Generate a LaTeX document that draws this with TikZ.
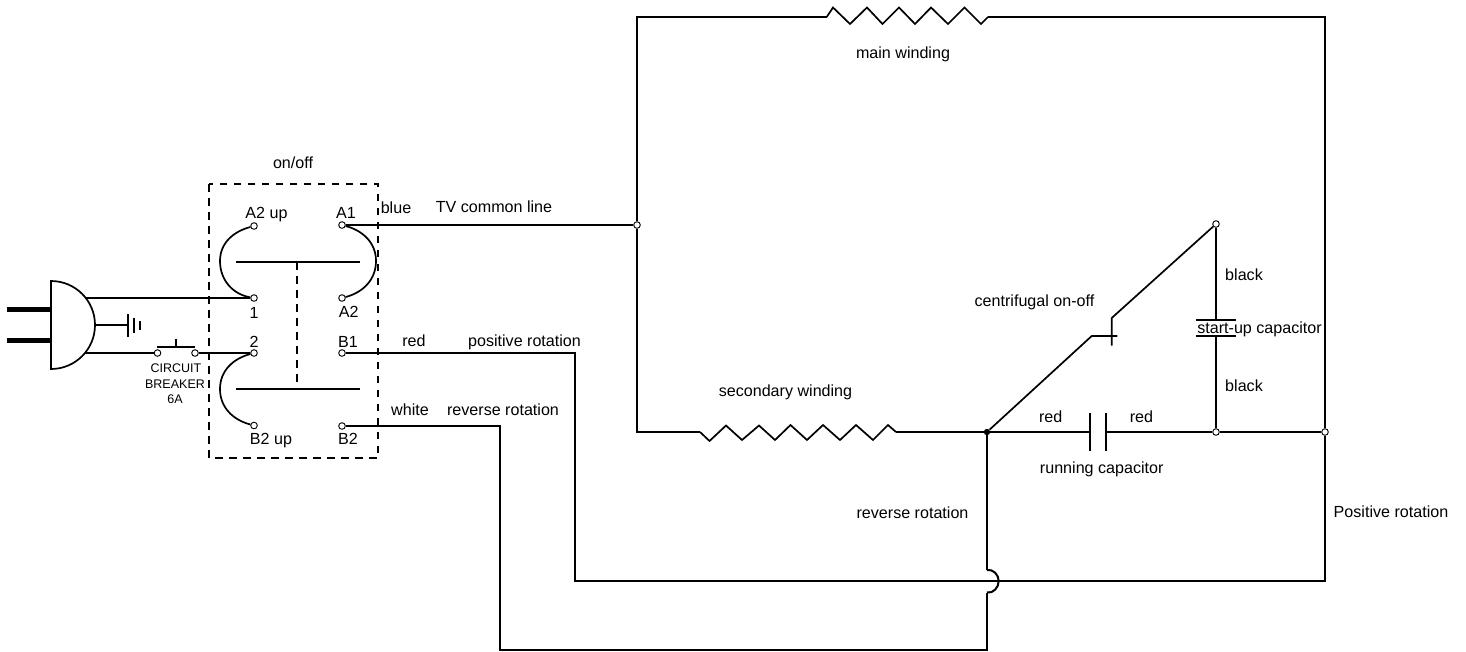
\documentclass[tikz,border=0pt]{standalone}
\usepackage{fontspec}
\setmainfont{Liberation Sans}
\begin{document}
\begin{tikzpicture}[x=1pt,y=-1pt,
  wire/.style={draw=black,line width=2pt,line join=miter},
  thin wire/.style={draw=black,line width=1.7pt,line join=miter},
  dash box/.style={draw=black,line width=1.6pt,dash pattern=on 7.5pt off 6.5pt},
  plate/.style={draw=black,line width=2pt},
  pin/.style={draw=black,line width=5pt},
  term/.style={circle,draw=black,line width=0.9pt,fill=white,inner sep=0pt,minimum size=6.6pt},
  dot/.style={circle,fill=black,inner sep=0pt,minimum size=6.4pt},
  lbl/.style={anchor=base,inner sep=0pt,yshift=-0.6pt,font=\fontsize{16.1}{18}\selectfont,text=black},
  small lbl/.style={anchor=base,inner sep=0pt,font=\fontsize{12.5}{14}\selectfont,text=black}]
\useasboundingbox (0,0) rectangle (1466,651);
\fill[white] (0,0) rectangle (1466,651);

% terminals
\node[term] (a2up) at (254,226) {};
\node[term] (a1) at (342,225) {};
\node[term] (t1) at (254,298) {};
\node[term] (a2) at (342,298) {};
\node[term] (t2) at (254,353) {};
\node[term] (b1) at (342,353) {};
\node[term] (b2up) at (254,425.5) {};
\node[term] (b2) at (342,426) {};
\node[term] (cbl) at (157.5,353) {};
\node[term] (cbr) at (195,353) {};
\node[term] (tv) at (637,225) {};
\node[term] (sw) at (1216,224) {};
\node[term] (cj) at (1216,432) {};
\node[term] (pr) at (1325,432) {};
\node[dot] (rj) at (987,432) {};

% named free points
\coordinate (plugT) at (51,281);
\coordinate (plugR) at (95,325);
\coordinate (plugB) at (51,369);
\coordinate (p1) at (86,298);
\coordinate (p2) at (85,353);
\coordinate (arcA) at (220,261);
\coordinate (arcB) at (376,261);
\coordinate (arcC) at (220,389);
\coordinate (barAl) at (236,262);
\coordinate (barAr) at (360,262);
\coordinate (barBl) at (236,389);
\coordinate (barBr) at (360,389);
\coordinate (barAm) at (297,262);
\coordinate (barBm) at (297,389);
\coordinate (tl) at (637,17);
\coordinate (bl) at (637,432);
\coordinate (mw1) at (826.7,17);
\coordinate (mw2) at (988,17);
\coordinate (tr) at (1325,17);
\coordinate (br) at (1325,581);
\coordinate (pb) at (575,581);
\coordinate (pc) at (575,353);
\coordinate (sw1) at (700,432);
\coordinate (sw2) at (896,432);
\coordinate (cap1) at (1090,432);
\coordinate (cap2) at (1106,432);
\coordinate (suc1) at (1216,319.5);
\coordinate (suc2) at (1216,336);
\coordinate (cf1) at (1091.7,336);
\coordinate (cf2) at (1111.7,318);
\coordinate (br1) at (987,570);
\coordinate (brm) at (998.7,581);
\coordinate (br2) at (987,592.5);
\coordinate (rb) at (987,650);
\coordinate (rl) at (500,650);
\coordinate (rc) at (500,426);

% plug
\draw[pin] (7,309.3) -- (51,309.3);
\draw[pin] (7,340.3) -- (51,340.3);
\draw[thin wire,fill=white] (plugT) to[out=0,in=90] (plugR) to[out=-90,in=0] (plugB) -- cycle;
\draw[wire] (plugR) -- (128.3,325);
\draw[plate] (128.3,314) -- (128.3,336.7);
\draw[plate] (134,317.7) -- (134,333);
\draw[plate] (140,321) -- (140,330);

% mains and breaker
\draw[wire] (p1) -- (t1);
\draw[wire] (p2) -- (cbl);
\draw[wire] (cbr) -- (t2);
\draw[wire] (157,347) -- (195,347);
\draw[wire] (176,338.7) -- (176,347);

% switch box
\draw[dash box] (209,184) rectangle (378,458);
\draw[thin wire] (a2up) to[out=195,in=90] (arcA) to[out=-90,in=170] (t1);
\draw[thin wire] (a1) to[out=-15,in=90] (arcB) to[out=-90,in=15] (a2);
\draw[thin wire] (t2) to[out=195,in=90] (arcC) to[out=-90,in=165] (b2up);
\draw[wire] (barAl) -- (barAr);
\draw[wire] (barBl) -- (barBr);
\draw[dash box] (barAm) -- (barBm);

% long wires
\draw[wire] (a1) -- (tv);
\draw[wire] (tv) -- (tl) -- (mw1);
\draw[thin wire] (mw1) -- ++(6.3,-9.5) -- ++(17,16.5) -- ++(17,-16.5) -- ++(15.5,16.5) -- ++(16.5,-16.5) -- ++(16,16.5) -- ++(16,-16.5) -- ++(17,16.5) -- ++(16.5,-16.5) -- ++(16.5,16.5) -- (mw2);
\draw[wire] (mw2) -- (tr) -- (pr);
\draw[wire] (pr) -- (br) -- (pb) -- (pc) -- (b1);
\draw[wire] (tv) -- (bl) -- (sw1);
\draw[thin wire] (sw1) -- (709.5,441) -- (726,425.5) -- (742,440) -- (759,425.5) -- (775,440) -- (790.5,425) -- (807,440) -- (823,425) -- (840,440) -- (856,425) -- (873,440) -- (888,425) -- (sw2);
\draw[wire] (sw2) -- (rj);
\draw[wire] (rj) -- (cap1);
\draw[plate] (1090,413) -- (1090,451);
\draw[plate] (1106,413) -- (1106,451);
\draw[wire] (cap2) -- (cj);
\draw[wire] (cj) -- (pr);
\draw[wire] (sw) -- (suc1);
\draw[plate] (1196,319.5) -- (1236,319.5);
\draw[plate] (1196,336) -- (1236,336);
\draw[wire] (suc2) -- (cj);
\draw[thin wire] (rj) -- (cf1) -- (1117.3,336);
\draw[thin wire] (sw) -- (cf2) -- (1111.7,345.7);
\draw[wire] (rj) -- (br1);
\draw[wire] (br1) to[out=10,in=90] (brm) to[out=-90,in=-10] (br2);
\draw[wire] (br2) -- (rb) -- (rl) -- (rc) -- (b2);

% labels
\node[lbl] (Lonoff) at (293,168) {on/off};
\node[lbl] (La2up) at (266.5,218) {A2 up};
\node[lbl] (La1) at (346,218) {A1};
\node[lbl] (Lblue) at (396,213) {blue};
\node[lbl] (Ltv) at (494,212) {TV common line};
\node[lbl] (L1) at (254,317.5) {1};
\node[lbl] (La2) at (348.7,317) {A2};
\node[lbl] (L2) at (254,346.7) {2};
\node[lbl] (Lb1) at (348,347) {B1};
\node[lbl] (Lred) at (414,346) {red};
\node[lbl] (Lpos) at (524.5,346) {positive rotation};
\node[lbl] (Lwhite) at (410,415) {white};
\node[lbl] (Lrev) at (503,415) {reverse rotation};
\node[lbl] (Lb2up) at (271,444) {B2 up};
\node[lbl] (Lb2) at (348,444) {B2};
\node[small lbl] (Lcb1) at (176,372) {CIRCUIT};
\node[small lbl] (Lcb2) at (175,388) {BREAKER};
\node[small lbl] (Lcb3) at (175,403) {6A};
\node[lbl] (Lmain) at (903,58) {main winding};
\node[lbl] (Lsec) at (785.5,396) {secondary winding};
\node[lbl] (Lcent) at (1034.5,306) {centrifugal on-off};
\node[lbl] (Lblk1) at (1244,280) {black};
\node[lbl] (Lsuc) at (1259.5,333) {start-up capacitor};
\node[lbl] (Lblk2) at (1244,390.5) {black};
\node[lbl] (Lr1) at (1050.7,421.5) {red};
\node[lbl] (Lr2) at (1141.5,421.5) {red};
\node[lbl] (Lrun) at (1101.7,472.5) {running capacitor};
\node[lbl] (Lrev2) at (912.5,518) {reverse rotation};
\node[lbl] (Lpos2) at (1391,517) {Positive rotation};
\end{tikzpicture}
\end{document}
